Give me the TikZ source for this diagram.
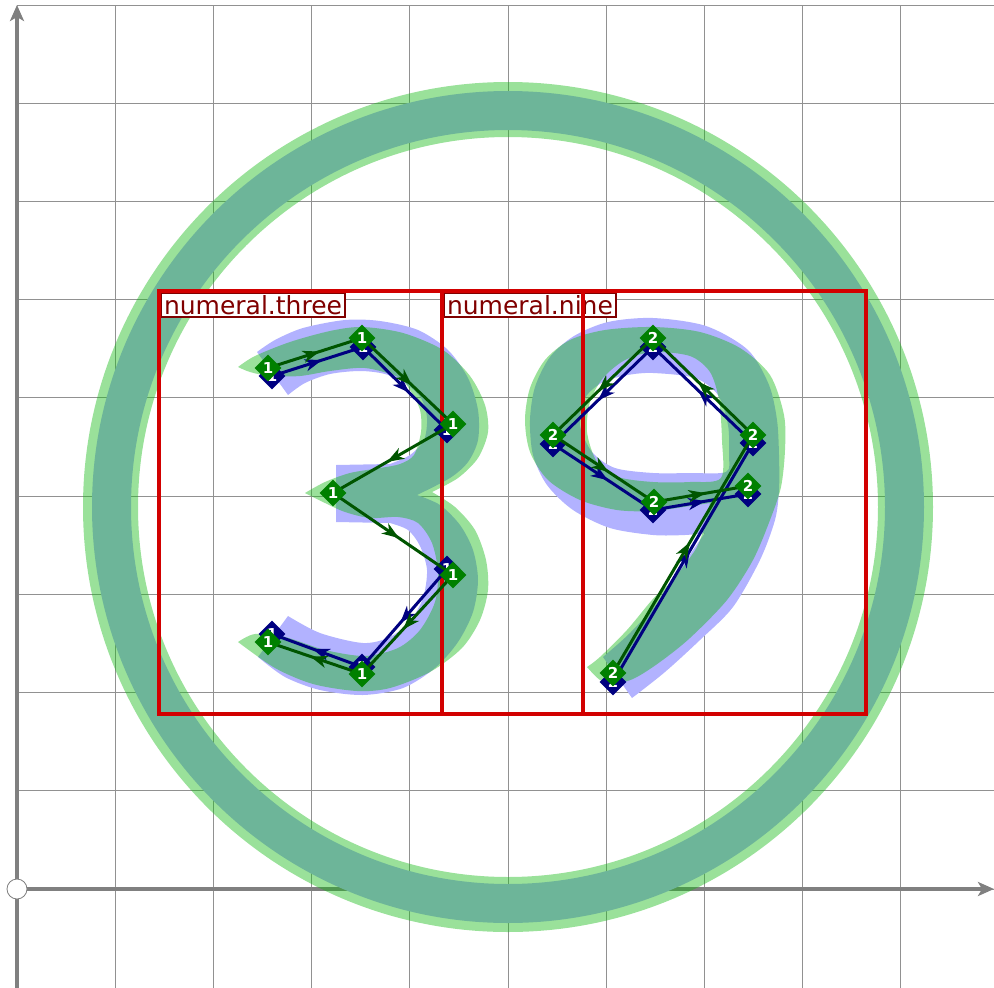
\documentclass[tikz,border=0pt]{standalone}
\usepackage{fontspec}
\setmainfont{DejaVu Sans}
\newfontfamily\labelfont{DejaVu Sans}
\usetikzlibrary{arrows.meta,decorations.markings,shapes.geometric}
\definecolor{gridgray}{RGB}{145,145,145}
\definecolor{axisgray}{RGB}{128,128,128}
\definecolor{glyphblue}{RGB}{178,178,255}
\definecolor{pengreen}{RGB}{20,185,20}
\definecolor{markgreen}{RGB}{0,128,0}
\definecolor{linegreen}{RGB}{0,85,0}
\definecolor{marknavy}{RGB}{0,0,128}
\definecolor{boxred}{RGB}{210,0,0}
\definecolor{labelred}{RGB}{128,0,0}
\begin{document}
\begin{tikzpicture}[x=1pt,y=-1pt,
  gridl/.style={gridgray, line width=1pt},
  axisl/.style={axisgray, line width=4pt, -{Stealth[length=16pt,width=14pt,inset=4pt]}},
  bluefill/.style={fill=glyphblue},
  greenfill/.style={fill=pengreen, fill opacity=0.43},
  midarrow/.style={postaction={decorate}, decoration={markings, mark=at position 0.55 with {\arrow{Stealth[length=17pt,width=12pt,inset=5pt]}}}},
  gpath/.style={draw=linegreen, line width=3pt, midarrow},
  bpath/.style={draw=marknavy, line width=3pt, midarrow},
  gmark/.style={diamond, fill=markgreen, inner sep=0pt, minimum width=27pt, minimum height=27pt, text=white, font=\bfseries\fontsize{15}{15}\selectfont},
  bmark/.style={gmark, fill=marknavy},
  lbl/.style={draw=labelred, line width=2pt, fill=white, text=labelred, font=\labelfont\fontsize{25}{25}\selectfont, inner xsep=3pt, inner ysep=2pt, text height=19pt, text depth=1pt, anchor=north west},
  redbox/.style={draw=boxred, line width=3.2pt}
]
\useasboundingbox (0,0) rectangle (994,988);
% grid
\foreach \i in {1,...,9} \draw[gridl] ({17+98.22*\i},5) -- ({17+98.22*\i},988);
\foreach \j in {0,...,9} \draw[gridl] (17,{889-98.22*\j}) -- (994,{889-98.22*\j});
% axes
\coordinate (o) at (17,889);
\coordinate (xend) at (994,889);
\coordinate (ybot) at (17,988);
\coordinate (ytop) at (17,5);
\draw[axisl] (o) -- (xend);
\draw[axisl] (ybot) -- (ytop);
\node[circle, draw=axisgray, fill=white, line width=0.8pt, minimum size=20pt, inner sep=0pt] (orig) at (o) {};
% ring
\coordinate (rc) at (508,507);
\draw[glyphblue, line width=39pt] (rc) circle[radius=396.5pt];
\draw[pengreen, draw opacity=0.43, line width=55pt] (rc) circle[radius=397.5pt];
% blue glyph three
\fill[bluefill] plot[smooth] coordinates {(257,352) (275,340) (303,328) (345,320) (380,321) (418,330) (448,350) (468,378) (478,410) (478,440) (468,462) (450,478) (417,495)}
 -- plot[smooth] coordinates {(417,495) (440,505) (460,525) (473,550) (478,580) (473,612) (458,642) (435,668) (403,688) (363,695) (320,690) (285,677) (258,657)}
 -- plot[smooth] coordinates {(288,616) (320,633) (363,643) (390,637) (410,621) (423,598) (427,570) (420,546) (408,530) (390,523)}
 -- (336,522) -- (336,465) -- plot[smooth] coordinates {(390,464) (410,455) (424,440) (427,418) (421,398) (405,383) (385,374) (360,371) (330,374) (305,383) (288,395)} -- cycle;
% blue glyph nine
\fill[bluefill, even odd rule] plot[smooth] coordinates {(632,698) (665,672) (700,640) (733,607) (760,560) (775,520) (779,490) (779,455) (777,420) (769,385) (748,350) (706,326) (653,318) (608,322) (574,336) (550,357) (535,387) (530,420) (533,455) (547,485) (573,510) (610,528) (653,535) (685,535) (705,533)}
 -- plot[smooth] coordinates {(705,533) (693,550) (680,570) (660,600) (630,633) (603,657)} -- cycle
 plot[smooth cycle] coordinates {(653,373) (695,378) (718,395) (728,425) (729,455) (726,472) (690,473) (653,473) (615,468) (592,452) (580,425) (585,398) (603,382) (628,375)};
% green glyph three
\fill[greenfill] plot[smooth] coordinates {(238,367) (255,356) (290,342) (330,331) (362,327) (403,333) (443,350) (470,376) (485,405) (488,432) (478,458) (458,478) (432,492)}
 -- plot[smooth] coordinates {(432,492) (455,507) (475,530) (486,560) (488,590) (480,620) (462,648) (430,672) (390,688) (357,691) (313,684) (275,668) (238,642)}
 -- plot[smooth] coordinates {(238,642) (255,634) (285,637) (325,650) (365,656) (398,648) (420,630) (435,602) (438,572) (432,543) (418,523) (398,517) (370,518) (345,512) (325,503) (305,493)}
 -- plot[smooth] coordinates {(305,493) (325,482) (350,473) (380,468) (400,464) (414,455) (421,432) (420,410) (410,390) (398,377) (365,368) (330,371) (300,376) (270,376) (250,372) (238,367)} -- cycle;
% green glyph nine
\fill[greenfill, even odd rule] plot[smooth] coordinates {(587,667) (600,680) (615,684) (635,678) (660,662) (690,638) (727,600) (753,560) (770,520) (781,487) (785,450) (784,415) (770,375) (740,348) (700,332) (653,327) (605,330) (570,340) (545,360) (530,388) (525,420) (530,452) (548,480) (580,500) (617,510) (653,511) (690,506) (710,503)}
 -- plot[smooth] coordinates {(710,503) (704,528) (697,547) (683,567) (668,585) (652,600) (627,630) (600,657) (587,667)} -- cycle
 plot[smooth cycle] coordinates {(653,352) (690,356) (710,372) (719,400) (722,440) (721,478) (690,482) (653,482) (618,477) (597,462) (587,432) (590,402) (603,378) (625,360)};
% labels and boxes
\node[lbl] (lab3) at (160,292) {numeral.three};
\node[lbl] (lab9) at (443,292) {numeral.nine};
\draw[redbox] (159,291) rectangle (583,714);
\draw[redbox] (442,291) rectangle (866,714);
% control points
\coordinate (g31) at (268,368); \coordinate (g32) at (362,338); \coordinate (g33) at (453,424);
\coordinate (g34) at (333,493); \coordinate (g35) at (453,575); \coordinate (g36) at (362,674);
\coordinate (g37) at (268,642);
\coordinate (b31) at (272,376); \coordinate (b32) at (363,347); \coordinate (b33) at (447,430);
\coordinate (b35) at (447,569); \coordinate (b36) at (362,667); \coordinate (b37) at (272,634);
\coordinate (g91) at (613,673); \coordinate (g92) at (753,435); \coordinate (g93) at (653,338);
\coordinate (g94) at (553,435); \coordinate (g95) at (654,502); \coordinate (g96) at (748,486);
\coordinate (b91) at (613,682); \coordinate (b92) at (753,443); \coordinate (b93) at (653,347);
\coordinate (b94) at (553,444); \coordinate (b95) at (653,510); \coordinate (b96) at (748,494);
% blue paths
\draw[bpath] (b31) -- (b32); \draw[bpath] (b32) -- (b33);
\draw[bpath] (b35) -- (b36); \draw[bpath] (b36) -- (b37);
\draw[bpath] (b91) -- (b92); \draw[bpath] (b92) -- (b93); \draw[bpath] (b93) -- (b94);
\draw[bpath] (b94) -- (b95); \draw[bpath] (b95) -- (b96);
\foreach \p in {31,32,33,35,36,37} \node[bmark] (nb\p) at (b\p) {1};
\foreach \p in {91,92,93,94,95,96} \node[bmark] (nb\p) at (b\p) {2};
% green paths
\draw[gpath] (g31) -- (g32); \draw[gpath] (g32) -- (g33); \draw[gpath] (g33) -- (g34);
\draw[gpath] (g34) -- (g35); \draw[gpath] (g35) -- (g36); \draw[gpath] (g36) -- (g37);
\draw[gpath] (g91) -- (g92); \draw[gpath] (g92) -- (g93); \draw[gpath] (g93) -- (g94);
\draw[gpath] (g94) -- (g95); \draw[gpath] (g95) -- (g96);
\foreach \p in {31,32,33,34,35,36,37} \node[gmark] (ng\p) at (g\p) {1};
\foreach \p in {91,92,93,94,95,96} \node[gmark] (ng\p) at (g\p) {2};
\end{tikzpicture}
\end{document}
